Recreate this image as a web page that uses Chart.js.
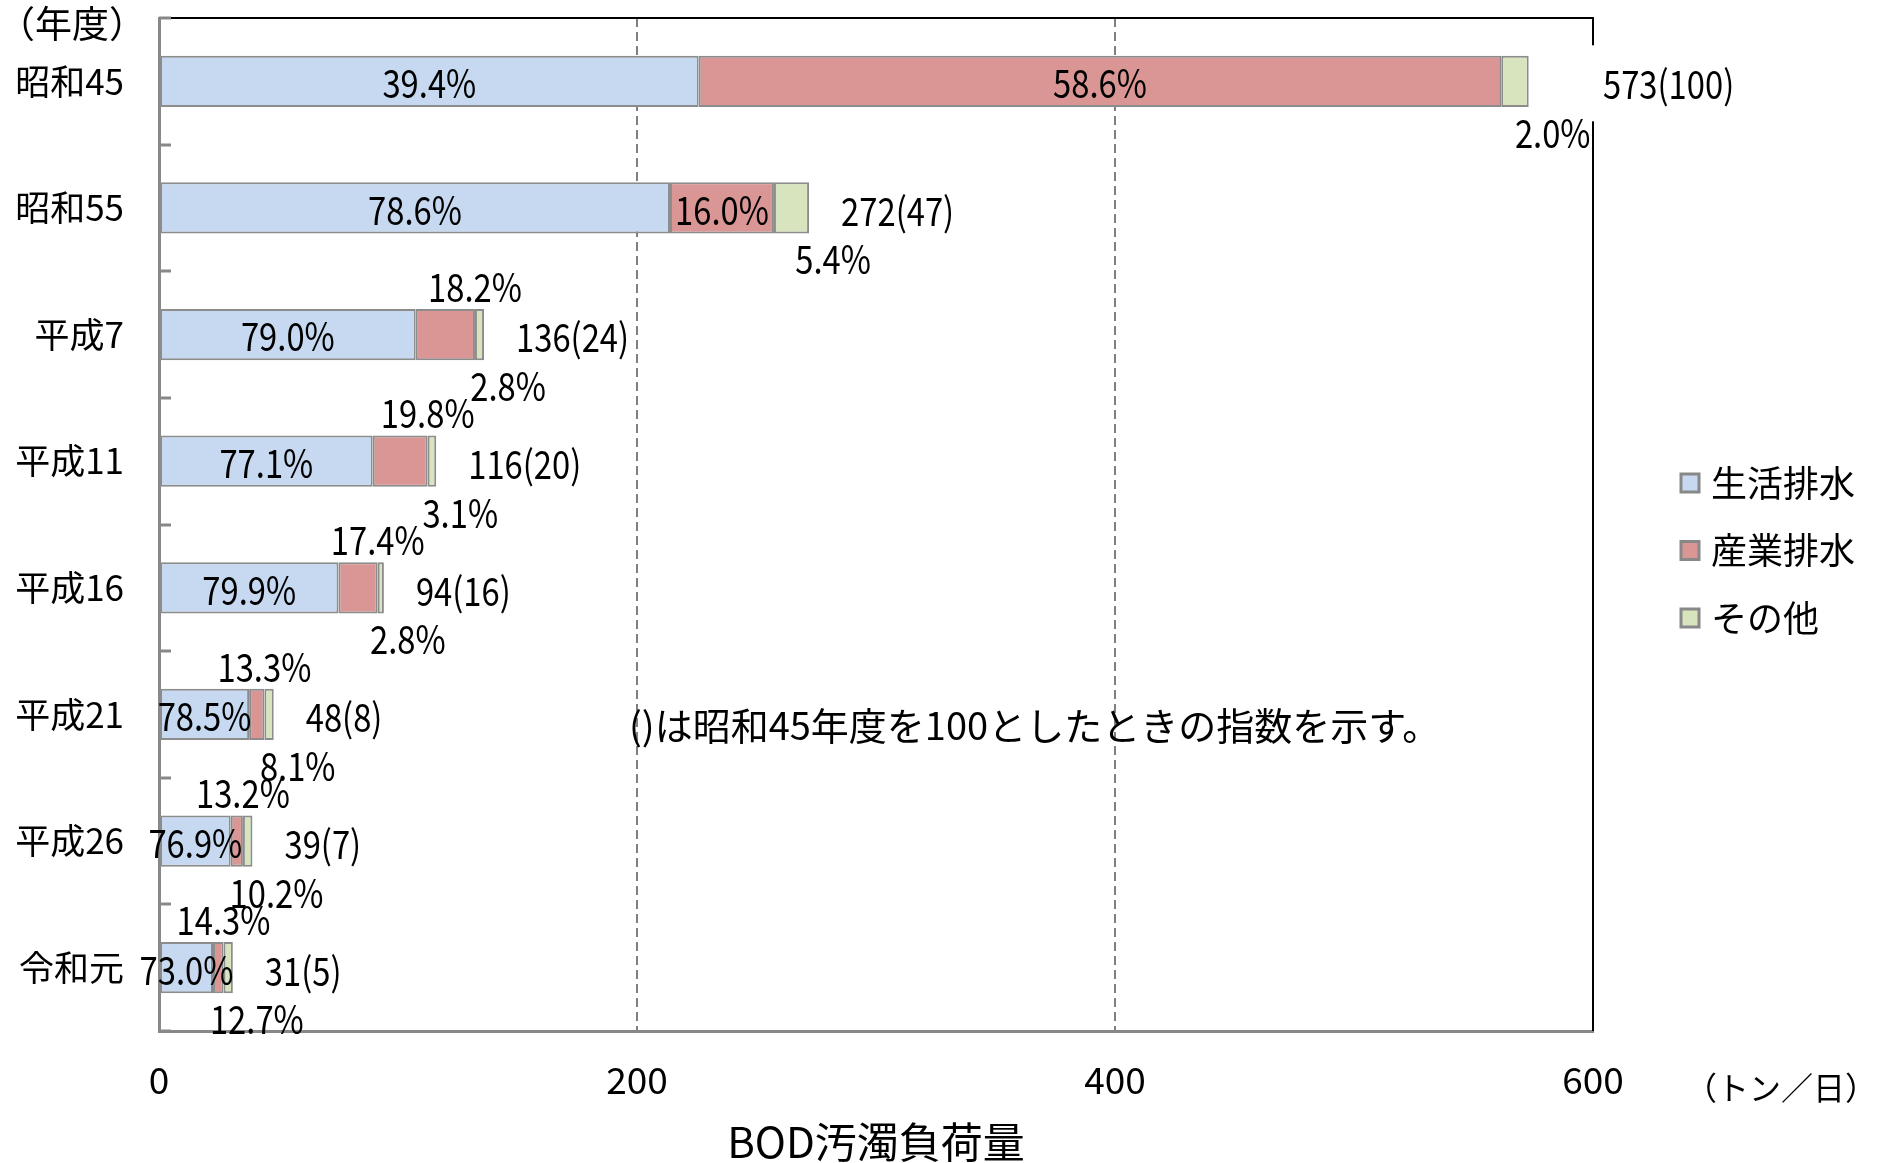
<!DOCTYPE html>
<html>
<head>
<meta charset="utf-8">
<script src="https://cdn.jsdelivr.net/npm/chart.js@4.4.0/dist/chart.umd.min.js"></script>
<style>
  body { margin: 0; background: #fff; }
</style>
</head>
<body>
<canvas id="c" width="1885" height="1163"></canvas>
<script>
// 年度
const categories = ['昭和45', '昭和55', '平成7', '平成11', '平成16', '平成21', '平成26', '令和元'];
// BOD汚濁負荷量（トン／日）
const seikatsu = [225.8, 213.8, 107.4, 89.4, 75.1, 37.7, 30.0, 22.6];
const sangyo = [335.8, 43.5, 24.8, 23.0, 16.4, 6.4, 5.1, 4.4];
const sonota = [11.5, 14.7, 3.8, 3.6, 2.6, 3.9, 4.0, 3.9];
// 構成比（％）
const seikatsuPct = [39.4, 78.6, 79.0, 77.1, 79.9, 78.5, 76.9, 73.0];
const sangyoPct = [58.6, 16.0, 18.2, 19.8, 17.4, 13.3, 13.2, 14.3];
const sonotaPct = [2.0, 5.4, 2.8, 3.1, 2.8, 8.1, 10.2, 12.7];
// 合計と指数（昭和45年度=100）
const totals = [573, 272, 136, 116, 94, 48, 39, 31];
const indexes = [100, 47, 24, 20, 16, 8, 7, 5];
const xTicks = [0, 200, 400, 600];

const seriesNames = ['生活排水', '産業排水', 'その他'];
const seriesColors = ['#C6D9F1', '#D99694', '#D7E4BD'];

const jp = "'Noto Sans CJK JP', sans-serif";
const SX = 0.84; // condensed look of the data labels

function fmt(v) { return v.toFixed(1) + '%'; }

// text squeezed horizontally
function sText(ctx, t, x, y, align) {
  ctx.save();
  ctx.translate(x, y);
  ctx.scale(SX, 1);
  ctx.textAlign = align;
  ctx.fillText(t, 0, 0);
  ctx.restore();
}

const labelPlugin = {
  id: 'labels',
  beforeDatasetsDraw(chart) {
    const ctx = chart.ctx, a = chart.chartArea, y = chart.scales.y;
    ctx.save();
    // small ticks between categories, pointing inward
    ctx.strokeStyle = '#888';
    ctx.lineWidth = 3;
    for (let i = 0; i <= categories.length; i++) {
      const py = Math.round(y.getPixelForValue(i - 0.5));
      ctx.beginPath();
      ctx.moveTo(a.left, py);
      ctx.lineTo(a.left + 12, py);
      ctx.stroke();
    }
    // top and right frame
    ctx.strokeStyle = '#000';
    ctx.lineWidth = 2;
    ctx.beginPath();
    ctx.moveTo(a.left + 12, a.top);
    ctx.lineTo(a.right, a.top);
    ctx.lineTo(a.right, a.bottom);
    ctx.stroke();
    ctx.restore();
  },
  afterDatasetsDraw(chart) {
    const ctx = chart.ctx, a = chart.chartArea;
    const m0 = chart.getDatasetMeta(0), m1 = chart.getDatasetMeta(1), m2 = chart.getDatasetMeta(2);
    ctx.save();
    ctx.font = '39px ' + jp;
    ctx.textBaseline = 'middle';
    for (let i = 0; i < categories.length; i++) {
      const b = m0.data[i], r = m1.data[i], g = m2.data[i];
      const cy = b.y + 2;
      const off = b.height * 0.97;
      ctx.fillStyle = '#000';
      sText(ctx, fmt(seikatsuPct[i]), (b.base + b.x) / 2, cy, 'center');
      const rt = fmt(sangyoPct[i]);
      if (r.x - r.base > ctx.measureText(rt).width * SX + 8) {
        sText(ctx, rt, (r.base + r.x) / 2, cy, 'center');
      } else {
        sText(ctx, rt, r.x, cy - off, 'center');
      }
      const tt = totals[i] + '(' + indexes[i] + ')';
      const tw = ctx.measureText(tt).width * SX;
      let tx = g.x + 32;
      if (tx < a.right && tx + tw > a.right) {
        tx = a.right + 10;
        // label box sits over the frame line
        ctx.fillStyle = '#fff';
        ctx.fillRect(a.right - 3, cy - 38, tw + 16, 76);
        ctx.fillStyle = '#000';
      }
      sText(ctx, tt, tx, cy + 1, 'left');
      sText(ctx, fmt(sonotaPct[i]), g.x + 24, cy + off, 'center');
    }
    ctx.restore();
  },
  afterDraw(chart) {
    const ctx = chart.ctx;
    ctx.save();
    ctx.fillStyle = '#000';
    ctx.textBaseline = 'middle';
    // axis captions
    ctx.font = '37px ' + jp;
    ctx.textAlign = 'center';
    ctx.fillText('（年度）', 72, 24);
    ctx.font = '32px ' + jp;
    ctx.fillText('（トン／日）', 1781, 1088);
    // note
    ctx.font = '38px ' + jp;
    ctx.textAlign = 'left';
    ctx.fillText('()は昭和45年度を100としたときの指数を示す。', 629, 726);
    // legend
    ctx.font = '36px ' + jp;
    for (let k = 0; k < seriesNames.length; k++) {
      const ly = 483 + k * 67.5;
      ctx.fillStyle = seriesColors[k];
      ctx.fillRect(1681, ly - 9, 18, 18);
      ctx.strokeStyle = '#888';
      ctx.lineWidth = 3;
      ctx.strokeRect(1681, ly - 9, 18, 18);
      ctx.fillStyle = '#000';
      ctx.fillText(seriesNames[k], 1711, ly);
    }
    ctx.restore();
  }
};

const barStyle = { borderColor: '#8C8C8C', borderWidth: 2, borderSkipped: false, barPercentage: 0.405, categoryPercentage: 1 };

new Chart(document.getElementById('c'), {
  type: 'bar',
  data: {
    labels: categories,
    datasets: [
      Object.assign({ label: seriesNames[0], data: seikatsu, backgroundColor: seriesColors[0] }, barStyle),
      Object.assign({ label: seriesNames[1], data: sangyo, backgroundColor: seriesColors[1] }, barStyle),
      Object.assign({ label: seriesNames[2], data: sonota, backgroundColor: seriesColors[2] }, barStyle)
    ]
  },
  options: {
    indexAxis: 'y',
    responsive: false,
    animation: false,
    layout: { padding: { top: 18, right: 292, bottom: 0, left: 0 } },
    plugins: {
      legend: { display: false },
      tooltip: { enabled: false }
    },
    scales: {
      x: {
        stacked: true,
        min: xTicks[0],
        max: xTicks[xTicks.length - 1],
        afterBuildTicks: s => { s.ticks = xTicks.map(v => ({ value: v })); },
        afterFit: s => { s.height = 132; s.paddingLeft = 0; s.paddingRight = 0; },
        ticks: { color: '#000', font: { size: 37, family: jp }, padding: 27 },
        grid: {
          drawTicks: false,
          lineWidth: 2,
          color: c => (c.tick && c.tick.value > xTicks[0] && c.tick.value < xTicks[xTicks.length - 1]) ? '#808080' : 'rgba(0,0,0,0)'
        },
        border: { display: true, color: '#888', width: 3, dash: [9, 5] },
        title: {
          display: true,
          text: 'BOD汚濁負荷量',
          color: '#000',
          font: { size: 42, family: jp, lineHeight: 1 },
          padding: { top: 0, bottom: 0 }
        }
      },
      y: {
        stacked: true,
        afterFit: s => { s.width = 159; s.paddingTop = 0; s.paddingBottom = 0; },
        ticks: { color: '#000', font: { size: 35, family: jp }, padding: 35 },
        grid: { display: false, drawTicks: false },
        border: { display: true, color: '#888', width: 3 }
      }
    }
  },
  plugins: [labelPlugin]
});
</script>
</body>
</html>
